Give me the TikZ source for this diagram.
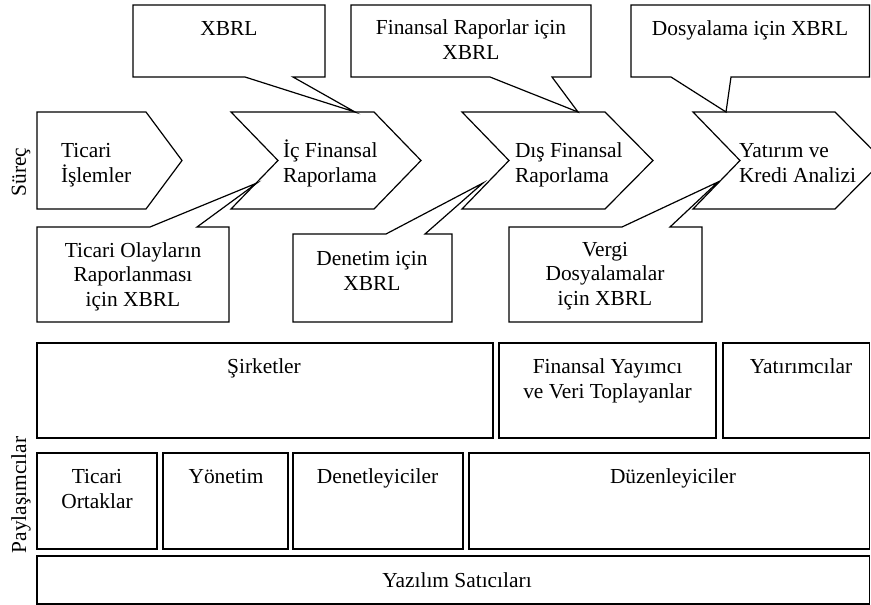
\documentclass[tikz,border=0pt]{standalone}
\usepackage{fontspec}
\setmainfont{Liberation Serif}
\usetikzlibrary{positioning}
\tikzset{
	every path/.style={line width=1.2pt, line join=miter},
	every node/.style={font=\fontsize{21.4}{24.5}\selectfont, inner sep=0pt, outer sep=0pt},
	shapeline/.style={draw=black},
	txt/.style={anchor=base, align=center},
	ltxt/.style={anchor=base west, align=left},
	side/.style={rotate=90, anchor=center}
}
\begin{document}
\begin{tikzpicture}[x=1pt, y=-1pt]
			\useasboundingbox (0,0) rectangle (871,605);
			
			% Side labels
			\node[side] (surec) at (21,172) {Süreç};
			\node[side] (paylas) at (21,495) {Paylaşımcılar};
			
			% Process chevrons
			\draw[shapeline] (37,112) -- (146,112) -- (182,160.5) -- (146,209) -- (37,209) -- cycle;
			\draw[shapeline] (231,112) -- (374,112) -- (421,160.5) -- (374,209) -- (231,209) -- (278,160.5) -- cycle;
			\draw[shapeline] (462,112) -- (605,112) -- (653,160.5) -- (605,209) -- (462,209) -- (509,160.5) -- cycle;
			\draw[shapeline] (693,112) -- (835,112) -- (883,160.5) -- (835,209) -- (693,209) -- (740,160.5) -- cycle;
			
			\node[ltxt] (ticari) at (61,182) {Ticari\\İşlemler};
			\node[ltxt] (icfin) at (283,182) {İç Finansal\\Raporlama};
			\node[ltxt] (disfin) at (515,182) {Dış Finansal\\Raporlama};
			\node[ltxt] (yatirim) at (739,182) {Yatırım ve\\Kredi Analizi};
			
			% Callouts above
			\draw[shapeline] (133,5) -- (325,5) -- (325,77) -- (293,77) -- (355,112) -- (245,77) -- (133,77) -- cycle;
			\draw[shapeline] (351,5) -- (591,5) -- (591,77) -- (552,77) -- (578,112) -- (490,77) -- (351,77) -- cycle;
			\draw[shapeline] (631,5) -- (869.5,5) -- (869.5,77) -- (731,77) -- (726,112) -- (671,77) -- (631,77) -- cycle;
			
			\node[txt] (xbrl) at (229,35) {XBRL};
			\node[txt] (finrap) at (471,59) {Finansal Raporlar için\\XBRL};
			\node[txt] (dosya) at (750,35) {Dosyalama için XBRL};
			
			% Callouts below
			\draw[shapeline] (37,227) -- (150,227) -- (257,183) -- (197,227) -- (229,227) -- (229,322) -- (37,322) -- cycle;
			\draw[shapeline] (293,234) -- (386,234) -- (483,183) -- (425,234) -- (452,234) -- (452,322) -- (293,322) -- cycle;
			\draw[shapeline] (509,227) -- (622,227) -- (718,182) -- (670,227) -- (702,227) -- (702,322) -- (509,322) -- cycle;
			
			\node[txt] (olay) at (133,306) {Ticari Olayların\\Raporlanması\\için XBRL};
			\node[txt] (denetim) at (372,290) {Denetim için\\XBRL};
			\node[txt] (vergi) at (605,305) {Vergi\\Dosyalamalar\\için XBRL};
			
			% Stakeholders
			\draw[shapeline] (37,343) rectangle (493,438);
			\draw[shapeline] (499,343) rectangle (716,438);
			\draw[shapeline] (723,343) rectangle (869.5,438);
			\draw[shapeline] (37,453) rectangle (157,549);
			\draw[shapeline] (163,453) rectangle (288,549);
			\draw[shapeline] (293,453) rectangle (463,549);
			\draw[shapeline] (469,453) rectangle (869.5,549);
			\draw[shapeline] (37,556) rectangle (869.5,604);
			
			\node[txt] (sirket) at (264,373) {Şirketler};
			\node[txt] (yayinci) at (607.5,398) {Finansal Yayımcı\\ve Veri Toplayanlar};
			\node[txt] (yatirimci) at (801,373) {Yatırımcılar};
			\node[txt] (ortak) at (97,508) {Ticari\\Ortaklar};
			\node[txt] (yonetim) at (226,483) {Yönetim};
			\node[txt] (denet) at (377.5,483) {Denetleyiciler};
			\node[txt] (duzen) at (673,483) {Düzenleyiciler};
			\node[txt] (yazilim) at (457,587) {Yazılım Satıcıları};
			
		\end{tikzpicture}
\end{document}
